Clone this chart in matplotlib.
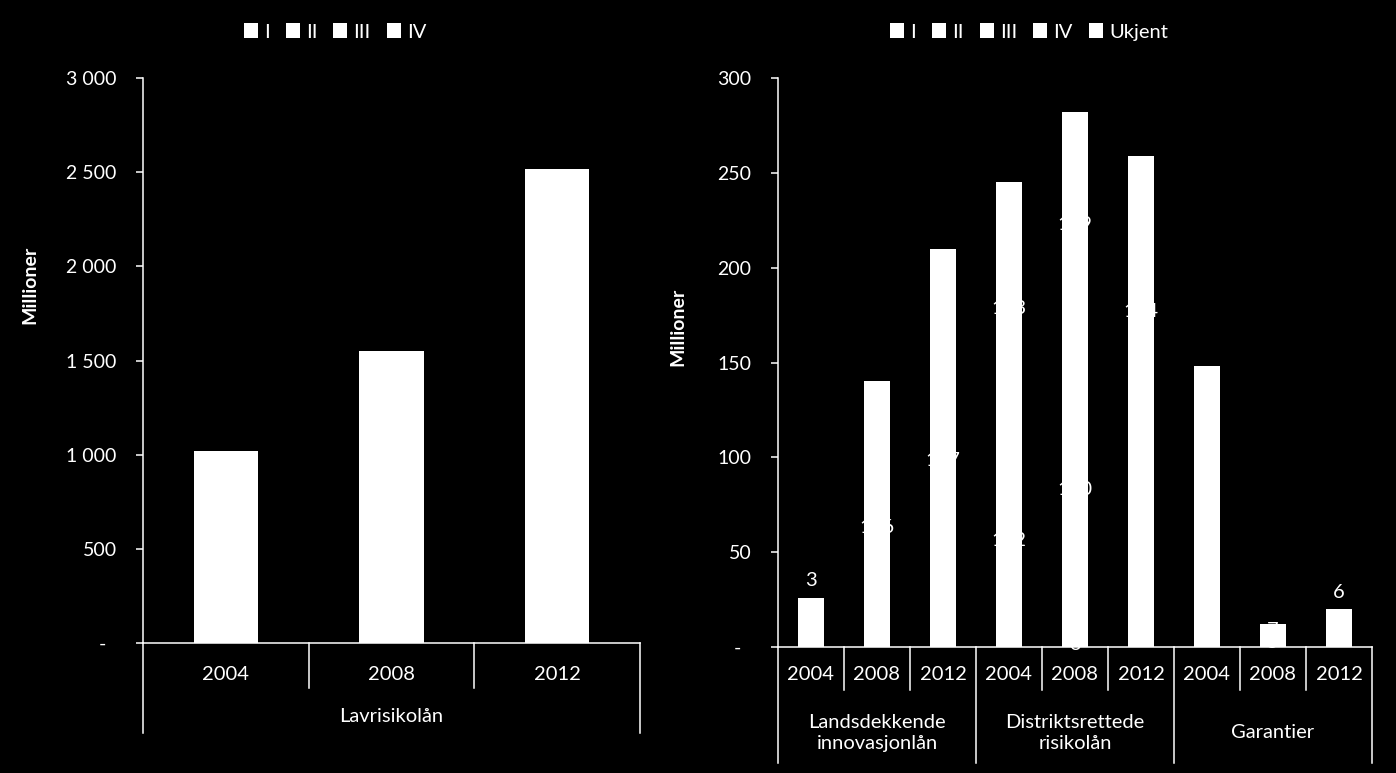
import matplotlib
matplotlib.use("Agg")
import matplotlib.pyplot as plt
import numpy as np
from matplotlib.transforms import blended_transform_factory

plt.rcParams["font.family"] = ["Lato", "DejaVu Sans"]

# ---- data ----
years = ["2004", "2008", "2012"]

# left panel: Lavrisikolån (stacked, all segments white)
left_group = "Lavrisikolån"
left_series = ["I", "II", "III", "IV"]
left_I = [1020, 1550, 2515]
left_II = [0, 0, 0]
left_III = [0, 0, 0]
left_IV = [0, 0, 0]

# right panel: three loan types x three years
right_groups = ["Landsdekkende\ninnovasjonlån", "Distriktsrettede\nrisikolån", "Garantier"]
right_series = ["I", "II", "III", "IV", "Ukjent"]
right_I = [23, 126, 197, 112, 3, 95, 72, 5, 7]
right_II = [0, 14, 13, 133, 160, 164, 76, 7, 7]
right_III = [0, 0, 0, 0, 119, 0, 0, 0, 0]
right_IV = [0, 0, 0, 0, 0, 0, 0, 0, 0]
right_ukjent = [3, 0, 0, 0, 0, 0, 0, 0, 6]

FG = "white"
BG = "black"
FS = 14.5
W, H = 1396, 773


def px_to_axes(ax, px):
    # vertical pixel distance -> axes fraction
    return px / (ax.get_position().height * H)


def stacked(ax, series_vals, names, width, labels=False):
    x = np.arange(len(series_vals[0]))
    bottom = np.zeros(len(x))
    for vals, name in zip(series_vals, names):
        vals = np.asarray(vals, dtype=float)
        bars = ax.bar(x, vals, width, bottom=bottom, color=FG, edgecolor="none",
                      label=name, zorder=2)
        if labels:
            txt = [str(int(v)) if v > 0 else "" for v in vals]
            if name == "Ukjent":
                ax.bar_label(bars, labels=txt, label_type="edge", padding=6,
                             color=FG, fontsize=FS, zorder=4)
            else:
                ax.bar_label(bars, labels=txt, label_type="center",
                             color=FG, fontsize=FS, zorder=4)
        bottom += vals
    return x


def category_axis(ax, n_groups, groups, year_drop, group_drop, year_y, group_y, linespacing=1.2):
    trans = blended_transform_factory(ax.transData, ax.transAxes)
    n = n_groups * len(years)
    # separators
    for i in range(n + 1):
        xb = i - 0.5
        drop = group_drop if i % len(years) == 0 else year_drop
        ax.plot([xb, xb], [0, -px_to_axes(ax, drop)], color=FG, lw=1.1,
                transform=trans, clip_on=False)
    for i in range(n):
        ax.text(i, -px_to_axes(ax, year_y), years[i % len(years)], transform=trans,
                ha="center", va="center", color=FG, fontsize=FS)
    for g, name in enumerate(groups):
        xc = g * len(years) + 1
        ax.text(xc, -px_to_axes(ax, group_y), name, transform=trans, ha="center",
                va="center", color=FG, fontsize=FS, linespacing=linespacing)


def style_axes(ax):
    ax.set_facecolor(BG)
    for s in ["top", "right"]:
        ax.spines[s].set_visible(False)
    for s in ["left", "bottom"]:
        ax.spines[s].set_color(FG)
        ax.spines[s].set_linewidth(1.1)
    ax.tick_params(axis="y", colors=FG, labelsize=FS - 0.5, length=5, width=1.1,
                   direction="out", pad=14)
    ax.tick_params(axis="x", length=0, labelbottom=False)


def fmt(v, pos=None):
    if v == 0:
        return "-  "
    return f"{int(v):,}".replace(",", " ")


fig = plt.figure(figsize=(W / 100, H / 100), dpi=100, facecolor=BG)

# left panel
ax1 = fig.add_axes([143 / W, 1 - 643 / H, (640 - 143) / W, (643 - 78) / H])
style_axes(ax1)
stacked(ax1, [left_I, left_II, left_III, left_IV], left_series, 0.39)
ax1.set_xlim(-0.5, 2.5)
ax1.set_ylim(0, 3000)
ax1.set_yticks(np.arange(0, 3001, 500))
ax1.yaxis.set_major_formatter(plt.FuncFormatter(fmt))
ax1.set_ylabel("Millioner", color=FG, fontsize=14, fontweight="bold")
ax1.yaxis.set_label_coords(-0.211, 0.634)
category_axis(ax1, 1, [left_group], 45, 90, 32, 74)
h1, l1 = ax1.get_legend_handles_labels()
fig.legend(h1, l1, loc="center", bbox_to_anchor=(335 / W, 1 - 32 / H), ncol=4,
           frameon=False, labelcolor=FG, fontsize=FS, handlelength=0.7,
           handleheight=0.7, handletextpad=0.3, columnspacing=0.8)

# right panel
ax2 = fig.add_axes([778 / W, 1 - 647 / H, (1372 - 778) / W, (647 - 78) / H])
style_axes(ax2)
stacked(ax2, [right_I, right_II, right_III, right_IV, right_ukjent], right_series,
        0.4, labels=True)
ax2.set_xlim(-0.5, 8.5)
ax2.set_ylim(0, 300)
ax2.set_yticks(np.arange(0, 301, 50))
ax2.yaxis.set_major_formatter(plt.FuncFormatter(fmt))
ax2.set_ylabel("Millioner", color=FG, fontsize=14, fontweight="bold")
ax2.yaxis.set_label_coords(-0.155, 0.562)
category_axis(ax2, 3, right_groups, 43, 116, 28, 86, linespacing=1.35)
h2, l2 = ax2.get_legend_handles_labels()
fig.legend(h2, l2, loc="center", bbox_to_anchor=(1029 / W, 1 - 32 / H), ncol=5,
           frameon=False, labelcolor=FG, fontsize=FS, handlelength=0.7,
           handleheight=0.7, handletextpad=0.3, columnspacing=0.8)

fig.savefig("out.png", dpi=100, facecolor=BG)
